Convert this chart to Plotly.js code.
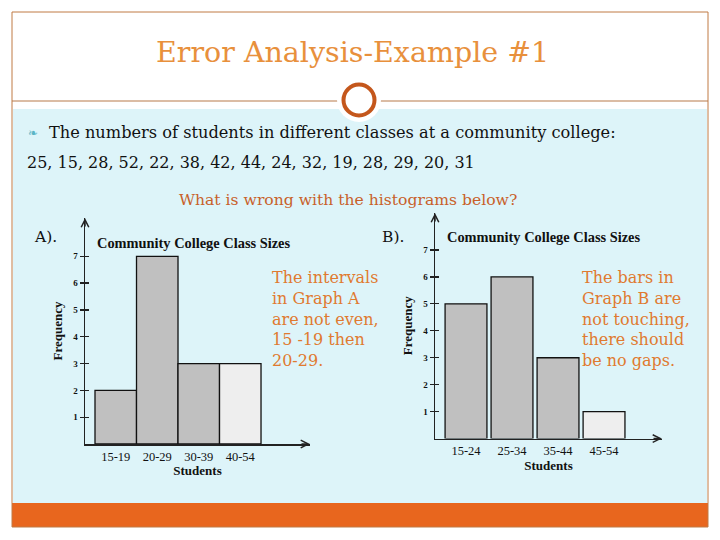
<!DOCTYPE html>
<html><head><meta charset="utf-8">
<script src="https://cdn.plot.ly/plotly-3.0.1.min.js"></script>
<style>html,body{margin:0;padding:0;background:#fff;}#chart{width:720px;height:540px;}</style>
</head><body><div id="chart"></div>
<script>
// ---- data ----
const classSizes = [25, 15, 28, 52, 22, 38, 42, 44, 24, 32, 19, 28, 29, 20, 31];
const binsA = ["15-19", "20-29", "30-39", "40-54"];
const freqA = [2, 7, 3, 3];
const binsB = ["15-24", "25-34", "35-44", "45-54"];
const freqB = [5, 6, 3, 1];
const yTicks = [1, 2, 3, 4, 5, 6, 7];

const W = 720, H = 540;
const px = v => v / W, py = v => 1 - v / H;

const serif = "DejaVu Serif";
const chartFont = "Liberation Serif";
const barColors = ["#c0c0c0", "#c0c0c0", "#c0c0c0", "#eeeeee"];

const traces = [
  {type: "bar", x: binsA, y: freqA, xaxis: "x", yaxis: "y", width: 1,
   marker: {color: barColors, line: {color: "#111", width: 1.3}}, hoverinfo: "none"},
  {type: "bar", x: binsB, y: freqB, xaxis: "x2", yaxis: "y2", width: 0.91,
   marker: {color: barColors, line: {color: "#111", width: 1.3}}, hoverinfo: "none"}
];

function xax(domain, range) {
  return {domain: domain, range: range, type: "category", showline: true, linecolor: "#222", linewidth: 1.5,
    ticks: "", showgrid: false, zeroline: false, fixedrange: true,
    tickfont: {family: chartFont, size: 12.5, color: "#111"},
    title: {text: "<b>Students</b>", font: {family: chartFont, size: 13, color: "#111"}, standoff: 3}};
}
function yax(domain, range) {
  return {domain: domain, range: range, showline: true, linecolor: "#222", linewidth: 1.5,
    ticks: "outside", ticklen: 4, tickwidth: 1.3, tickcolor: "#222", tickvals: yTicks,
    minor: {tickvals: yTicks, ticks: "inside", ticklen: 4, tickwidth: 1.3, tickcolor: "#222", showgrid: false},
    showgrid: false, zeroline: false, fixedrange: true,
    tickfont: {family: chartFont, size: 9, color: "#111", weight: "bold"},
    title: {text: "<b>Frequency</b>", font: {family: chartFont, size: 13, color: "#111"}, standoff: 7}};
}

const shapes = [
  {type: "rect", xref: "paper", yref: "paper", x0: px(13), x1: px(707), y0: py(109), y1: py(503),
   fillcolor: "#ddf4f9", line: {width: 0}, layer: "below"},
  {type: "rect", xref: "paper", yref: "paper", x0: px(12), x1: px(708), y0: py(503), y1: py(527),
   fillcolor: "#e8661e", line: {width: 0}, layer: "below"},
  {type: "rect", xref: "paper", yref: "paper", x0: px(12), x1: px(708), y0: py(12), y1: py(527),
   fillcolor: "rgba(0,0,0,0)", line: {color: "#c07a45", width: 1}, layer: "below"},
  {type: "line", xref: "paper", yref: "paper", x0: px(12), x1: px(708), y0: py(101), y1: py(101),
   line: {color: "#b87a4a", width: 1.2}, layer: "below"},
  {type: "circle", xref: "paper", yref: "paper", x0: px(359 - 22), x1: px(359 + 22), y0: py(100 - 22), y1: py(100 + 22),
   fillcolor: "#ffffff", line: {width: 0}, layer: "below"},
  {type: "circle", xref: "paper", yref: "paper", x0: px(359 - 15.5), x1: px(359 + 15.5), y0: py(100 - 15.5), y1: py(100 + 15.5),
   fillcolor: "#ffffff", line: {color: "#c4571c", width: 4}, layer: "below"}
];

function txt(x, y, text, size, color, opts) {
  return Object.assign({xref: "paper", yref: "paper", x: px(x), y: py(y), text: text, showarrow: false,
    xanchor: "left", yanchor: "middle", align: "left",
    font: {family: serif, size: size, color: color}}, opts || {});
}
function arrow(x, y, ax, ay) {
  return {xref: "paper", yref: "paper", x: px(x), y: py(y), ax: ax, ay: ay, text: "", showarrow: true,
    arrowhead: 5, arrowsize: 1, arrowwidth: 1.5, arrowcolor: "#222"};
}

const annotations = [
  txt(352, 53, "Error Analysis-Example #1", 28.5, "#e8903c", {xanchor: "center"}),
  txt(26, 133, "❧", 12, "#5ab4c6", {font: {family: "DejaVu Sans", size: 12, color: "#5ab4c6"}}),
  txt(47, 133, "The numbers of students in different classes at a community college:", 16.2, "#111"),
  txt(25, 163, classSizes.join(", "), 16, "#111"),
  txt(348, 200, "What is wrong with the histograms below?", 15.6, "#c8602a", {xanchor: "center"}),
  txt(32, 237, "A).", 15.5, "#111"),
  txt(380, 237, "B).", 15.5, "#111"),
  txt(95, 243, "<b>Community College Class Sizes</b>", 14.4, "#111", {font: {family: chartFont, size: 14.4, color: "#111"}}),
  txt(445, 237, "<b>Community College Class Sizes</b>", 14.4, "#111", {font: {family: chartFont, size: 14.4, color: "#111"}}),
  txt(270, 319, "The intervals<br>in Graph A<br>are not even,<br>15 -19 then<br>20-29.", 16, "#e07a30"),
  txt(580, 319, "The bars in<br>Graph B are<br>not touching,<br>there should<br>be no gaps.", 16, "#e07a30"),
  arrow(310, 444, -10, 0),
  arrow(85, 218, 0, 10),
  arrow(662, 438.6, -10, 0),
  arrow(435, 213, 0, 10)
];

const layout = {
  width: W, height: H, margin: {l: 0, r: 0, t: 0, b: 0},
  paper_bgcolor: "#ffffff", plot_bgcolor: "rgba(0,0,0,0)",
  showlegend: false, bargap: 0,
  xaxis: xax([px(85), px(310)], [-0.741, 4.68]),
  yaxis: yax([py(444), py(218)], [0, 8.43]),
  xaxis2: xax([px(435), px(662)], [-0.674, 4.26]),
  yaxis2: yax([py(438.6), py(213)], [0, 8.37]),
  shapes: shapes, annotations: annotations
};
layout.xaxis.anchor = "y"; layout.yaxis.anchor = "x";
layout.xaxis2.anchor = "y2"; layout.yaxis2.anchor = "x2";

Plotly.newPlot("chart", traces, layout, {staticPlot: true, displayModeBar: false});
</script></body></html>
